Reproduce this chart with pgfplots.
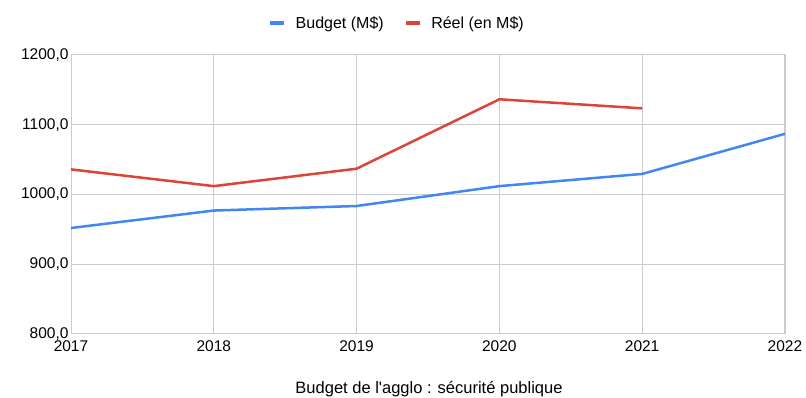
\documentclass[border=0pt]{standalone}
\usepackage{pgfplots}
\pgfplotsset{compat=1.18}
\usepackage{fontspec}
\setmainfont{Liberation Sans}
\definecolor{gblue}{HTML}{4285F4}
\definecolor{gred}{HTML}{DB4437}
\definecolor{ggrid}{HTML}{CCCCCC}
\begin{document}
\begin{tikzpicture}[x=1pt,y=1pt]
\path[use as bounding box] (0,0) rectangle (806,398);
\clip (0,0) rectangle (806,398);
\begin{axis}[
  scale only axis,
  width=714pt, height=279pt,
  at={(71pt,64pt)}, anchor=south west,
  xmin=2017, xmax=2022, ymin=800, ymax=1200,
  xtick={2017,...,2022}, ytick={800,900,...,1200},
  xticklabel style={/pgf/number format/1000 sep={}, yshift=-3pt},
  yticklabel style={xshift=1pt, /pgf/number format/.cd, fixed, fixed zerofill, precision=1, use comma, 1000 sep={}},
  /pgf/number format/assume math mode=true,
  tick label style={font=\fontsize{15.5}{17}\selectfont},
  grid=major,
  grid style={ggrid, line width=1pt},
  axis line style={ggrid, line width=1pt},
  tick style={draw=none},
  legend columns=2,
  legend style={draw=none, at={(326pt,311pt)}, anchor=center, font=\fontsize{16}{18}\selectfont,
    /tikz/every even column/.append style={column sep=18pt}},
  legend image code/.code={\draw[#1, line width=4.5pt] (0pt,0pt) -- (14pt,0pt);},
  clip=false,
]
\addplot[gblue, line width=2.5pt, line join=round] coordinates {
  (2017,952) (2018,977) (2019,983.5) (2020,1012) (2021,1029.5) (2022,1087)};
\addlegendentry{\hspace{7pt}Budget (M\$)}
\addplot[gred, line width=2.5pt, line join=round] coordinates {
  (2017,1036) (2018,1012) (2019,1037) (2020,1136.5) (2021,1123.5)};
\addlegendentry{\hspace{7pt}Réel (en M\$)}
\end{axis}
\node[font=\fontsize{16.5}{18}\selectfont, anchor=south, inner sep=1pt] at (429,0) {Budget de l\textquotesingle agglo : sécurité publique};
\end{tikzpicture}
\end{document}
